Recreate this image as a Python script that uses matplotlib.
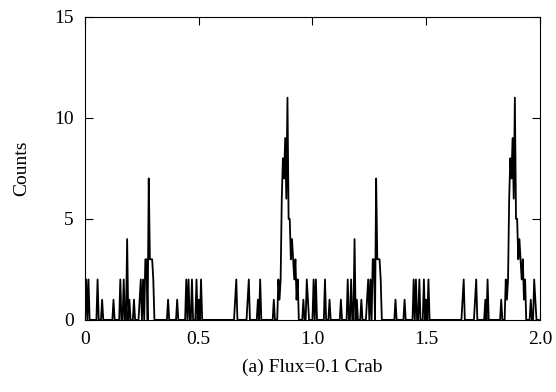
import numpy as np
import matplotlib.pyplot as plt

plt.rcParams['font.family'] = ['Liberation Serif', 'DejaVu Serif']

# one pulse cycle, bin width 0.005 in phase; only the non-empty bins listed
bin_width = 0.005
peak_phase = [0.005, 0.015, 0.055, 0.075, 0.125, 0.155, 0.170, 0.185, 0.195,
              0.215, 0.240, 0.245, 0.255, 0.265, 0.270, 0.280, 0.285, 0.290,
              0.295, 0.300, 0.365, 0.405, 0.445, 0.455, 0.470, 0.490, 0.500,
              0.510, 0.660, 0.665, 0.715, 0.720, 0.760, 0.770, 0.830, 0.850,
              0.855, 0.860, 0.865, 0.870, 0.875, 0.880, 0.885, 0.890, 0.895,
              0.900, 0.905, 0.910, 0.915, 0.920, 0.925, 0.930, 0.935, 0.960,
              0.975, 0.980]
peak_counts = [2, 2, 2, 1, 1, 2, 2, 4, 1,
               1, 1, 2, 2, 3, 3, 7, 3, 3,
               3, 2, 1, 1, 2, 2, 2, 2, 1,
               2, 1, 2, 1, 2, 1, 2, 1, 2,
               1, 2, 6, 8, 7, 9, 6, 11, 5,
               5, 3, 4, 3, 2, 3, 1, 2, 1,
               2, 1]
n_cycles = 2

nbins = int(round(1 / bin_width))
counts = np.zeros(nbins)
for p, c in zip(peak_phase, peak_counts):
    counts[int(round(p / bin_width))] = c

phase = np.arange(nbins * n_cycles) * bin_width
y = np.tile(counts, n_cycles)

fig = plt.figure(figsize=(5.56, 3.92), dpi=100)
ax = fig.add_axes([0.153, 0.184, 0.818, 0.773])
ax.plot(phase, y, color='black', linewidth=1.3)

ax.set_xlim(0, 2)
ax.set_ylim(0, 15)
ax.set_xticks([0, 0.5, 1.0, 1.5, 2.0])
ax.set_xticklabels(["0", "0.5", "1.0", "1.5", "2.0"])
ax.set_yticks([0, 5, 10, 15])
ax.tick_params(direction='in', top=True, right=True, length=6, labelsize=14, pad=8)
ax.set_xlabel("(a) Flux=0.1 Crab", fontsize=14, labelpad=8)
ax.set_ylabel("Counts", fontsize=14, labelpad=17)

plt.savefig("out.png", dpi=100)
